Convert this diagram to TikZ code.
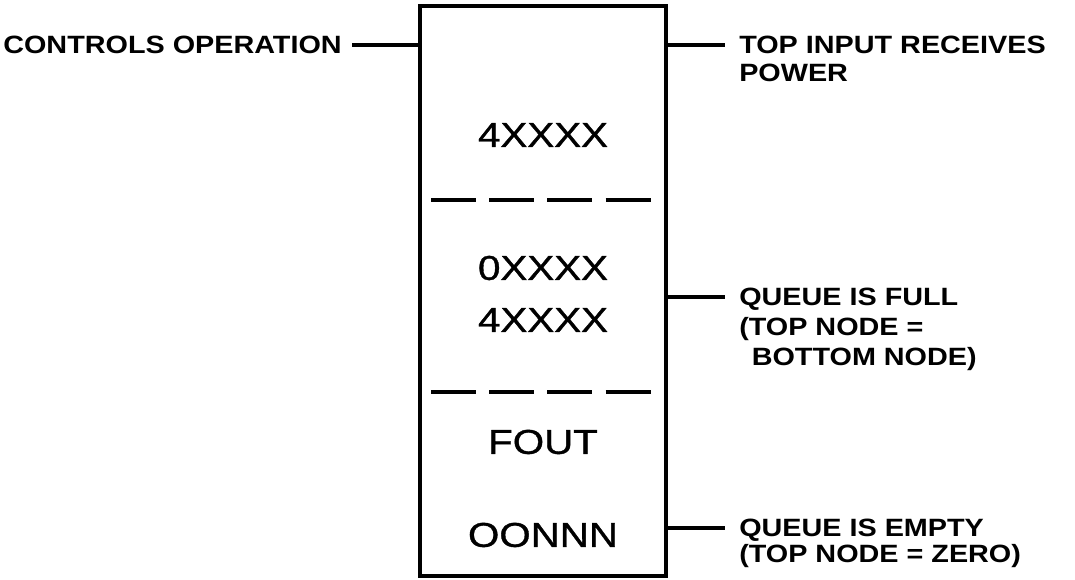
\documentclass[tikz,border=0pt]{standalone}
\usepackage{fontspec}
\newfontfamily\notefont{Liberation Sans}[FakeStretch=1.15]
\newfontfamily\entryfont{Liberation Sans}[FakeStretch=1.17, FakeBold=1]
\usetikzlibrary{positioning, calc}

\begin{document}
\begin{tikzpicture}[
  queuebox/.style={rectangle, draw, line width=2.8pt, minimum width=6.15cm, minimum height=14.25cm, inner sep=0pt},
  entry/.style={font=\entryfont\fontsize{24.5}{29}\selectfont, inner sep=0pt},
  note/.style={font=\notefont\bfseries\fontsize{17.8}{19.6}\selectfont, align=left, inner sep=0pt},
  lead/.style={line width=2.4pt},
  divider/.style={line width=2.8pt, dash pattern=on 1.125cm off 0.33cm}
]
  \useasboundingbox (0,0) rectangle (26.875,14.5);

  % the queue block
  \node[queuebox] (queue) at (13.575,7.22) {};

  \node[entry] (toprow) at (13.575,11.125) {4XXXX};
  \node[entry] (midrow1) at (13.575,7.8) {0XXXX};
  \node[entry] (midrow2) at (13.575,6.5) {4XXXX};
  \node[entry] (fout) at (13.575,3.45) {FOUT};
  \node[entry] (botrow) at (13.575,1.125) {OONNN};

  \coordinate (div1a) at (10.775,9.5);
  \coordinate (div1b) at (16.35,9.5);
  \coordinate (div2a) at (10.775,4.7);
  \coordinate (div2b) at (16.35,4.7);
  \draw[divider] (div1a) -- (div1b);
  \draw[divider] (div2a) -- (div2b);

  % left side
  \node[note, anchor=east] (ctrl) at (8.55,13.375) {CONTROLS OPERATION};
  \draw[lead] ([xshift=2.5mm]ctrl.east) -- (ctrl.east -| queue.west);

  % right side
  \coordinate (powerend) at (18.125,13.375);
  \coordinate (fullend) at (18.125,7.075);
  \coordinate (emptyend) at (18.125,1.3);

  \draw[lead] (powerend -| queue.east) -- (powerend);
  \draw[lead] (fullend -| queue.east) -- (fullend);
  \draw[lead] (emptyend -| queue.east) -- (emptyend);

  \node[note, anchor=north west] (power) at ([xshift=3.5mm, yshift=2.3mm]powerend)
    {TOP INPUT RECEIVES\\POWER};
  \node[note, anchor=north west, font=\notefont\bfseries\fontsize{17.8}{21.3}\selectfont] (full) at ([xshift=3.5mm, yshift=2.3mm]fullend)
    {QUEUE IS FULL\\(TOP NODE =\\\hspace{0.5em}BOTTOM NODE)};
  \node[note, anchor=north west, font=\notefont\bfseries\fontsize{17.8}{18.6}\selectfont] (empty) at ([xshift=3.5mm, yshift=2.3mm]emptyend)
    {QUEUE IS EMPTY\\(TOP NODE = ZERO)};
\end{tikzpicture}
\end{document}
